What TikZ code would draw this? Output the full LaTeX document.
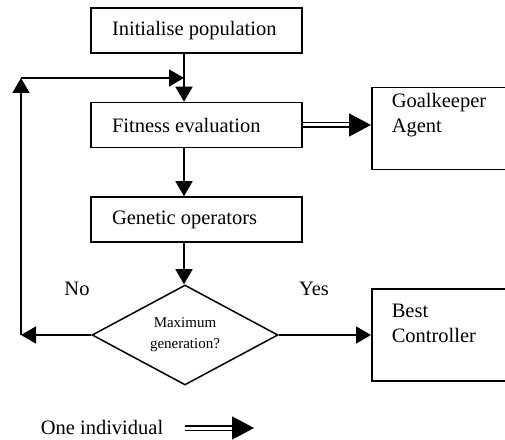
\documentclass[tikz,border=0pt]{standalone}
\usepackage{fontspec}
\setmainfont{Liberation Serif}
\usepackage{tikz}
\usetikzlibrary{shapes.geometric, arrows.meta, positioning}
\tikzset{
    process/.style={rectangle, text width=169pt, inner xsep=21pt, minimum height=45pt, align=flush left, draw=black, line width=1.5pt, font=\fontsize{20.5}{25}\selectfont},
    decision/.style={diamond, aspect=2, inner sep=0pt, minimum width=186pt, minimum height=100pt, align=center, draw=black, line width=1.5pt, font=\fontsize{15}{21}\selectfont},
    outbox/.style={rectangle, anchor=north west, align=flush left, inner xsep=20pt, draw=black, line width=1.5pt, font=\fontsize{20.5}{25}\selectfont},
    lbl/.style={font=\fontsize{20.5}{25}\selectfont},
    arrow/.style={line width=1.5pt, -{Triangle[length=15pt, width=17pt]}},
    bigarrow/.style={double, double distance=3pt, line width=1.5pt, -{Triangle[length=22pt, width=23pt]}}
}

\begin{document}
\begin{tikzpicture}[x=1pt, y=1pt]
    \useasboundingbox (0,0) rectangle (505,439);
    \clip (0,0) rectangle (505,439);

    % Main loop
    \node (init) [process] at (196.5,408.5) {Initialise population};
    \node (fitness) [process, below=48pt of init] {Fitness evaluation};
    \node (genetic) [process, below=48pt of fitness] {Genetic operators};
    \node (dec) [decision] at (185,104) {Maximum\\generation?};

    \coordinate (loopT) at (21,361);
    \coordinate (merge) at (184,361);

    \draw [arrow] (init.south -| merge) -- (fitness.north -| merge);
    \draw [arrow] (fitness.south -| merge) -- (genetic.north -| merge);
    \draw [arrow] (genetic.south -| merge) -- (dec.north -| merge);

    % Feedback on "No"
    \draw [arrow] (dec.west) -- (dec.west -| loopT);
    \draw [arrow] (dec.west -| loopT) -- (loopT);
    \draw [arrow] (loopT) -- (merge);

    % Outputs
    \node (gk) [outbox, inner ysep=6pt] at (371,352) {\parbox[t][70pt][t]{130pt}{Goalkeeper\\Agent}};
    \node (best) [outbox, inner ysep=15pt] at (371,151) {\parbox[t][62pt][t]{130pt}{Best\\Controller}};

    \draw [bigarrow] (fitness.east) -- (fitness.east -| gk.west);
    \draw [arrow] (dec.east) -- (dec.east -| best.west);

    \node (no) [lbl] at (77,150) {No};
    \node (yes) [lbl] at (314,150) {Yes};

    % Legend
    \node (legend) [lbl] at (102,12) {One individual};
    \coordinate (legA) at (185,11);
    \coordinate (legB) at (254,11);
    \draw [bigarrow] (legA) -- (legB);
\end{tikzpicture}
\end{document}
